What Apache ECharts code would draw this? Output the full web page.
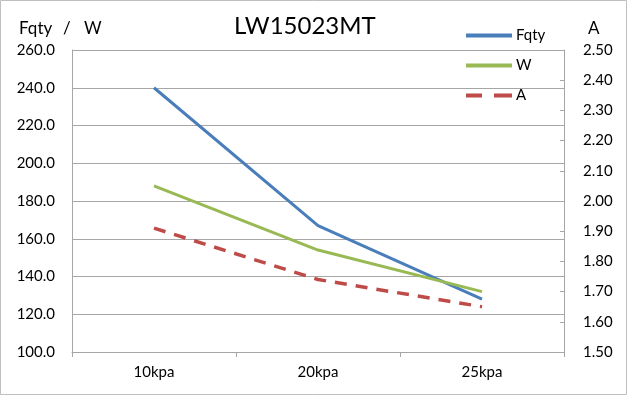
<!DOCTYPE html>
<html><head><meta charset="utf-8">
<script src="https://cdn.jsdelivr.net/npm/echarts@6/dist/echarts.min.js"></script>
<style>html,body{margin:0;padding:0;background:#fff}#c{width:628px;height:396px}</style>
</head><body><div id="c"></div>
<script>
var categories = ['10kpa', '20kpa', '25kpa'];
var fqty = [240, 167, 128];
var w = [188, 154, 132];
var a = [1.91, 1.74, 1.65];
var leftTicks = [100, 260, 20];
var rightTicks = [1.5, 2.5, 0.1];

var FONT = 'Lato';
var chart = echarts.init(document.getElementById('c'), null, {renderer: 'canvas'});
chart.setOption({
  backgroundColor: '#fff',
  animation: false,
  title: {text: 'LW15023MT', left: 229, top: 9,
    textStyle: {fontFamily: FONT, fontSize: 24, fontWeight: 'normal', color: '#000'}},
  legend: {
    orient: 'vertical', left: 461, top: 23, itemGap: 15, itemWidth: 46, itemHeight: 16,
    textStyle: {fontFamily: FONT, fontSize: 15, color: '#000', padding: [0, 0, 0, -1]},
    data: [
      {name: 'Fqty', icon: 'path://M0,0H46V4H0Z'},
      {name: 'W', icon: 'path://M0,0H46V4H0Z'},
      {name: 'A', icon: 'path://M0,0H16V4H0ZM28,0H46V4H28Z'}
    ]
  },
  graphic: [
    {type: 'rect', shape: {x: 0.5, y: 0.5, width: 626, height: 394}, style: {fill: 'none', stroke: '#bfbfbf', lineWidth: 1}, silent: true},
    {type: 'text', left: 19, top: 20, style: {text: 'Fqty', fontFamily: FONT, fontSize: 17, fill: '#000'}},
    {type: 'text', left: 63, top: 20, style: {text: '/', fontFamily: FONT, fontSize: 17, fill: '#000'}},
    {type: 'text', left: 84, top: 20, style: {text: 'W', fontFamily: FONT, fontSize: 17, fill: '#000'}},
    {type: 'text', left: 588, top: 20, style: {text: 'A', fontFamily: FONT, fontSize: 17, fill: '#000'}}
  ],
  grid: {left: 72, right: 64, top: 50, bottom: 44, containLabel: false},
  xAxis: {
    type: 'category', data: categories, boundaryGap: true,
    axisLine: {lineStyle: {color: '#a6a6a6', width: 1}},
    axisTick: {show: true, length: 5, lineStyle: {color: '#a6a6a6'}},
    axisLabel: {fontFamily: FONT, fontSize: 15, color: '#000', margin: 13}
  },
  yAxis: [
    {
      type: 'value', min: leftTicks[0], max: leftTicks[1], interval: leftTicks[2],
      axisLine: {show: true, lineStyle: {color: '#a6a6a6'}},
      axisTick: {show: false},
      splitLine: {lineStyle: {color: '#a6a6a6', width: 1}},
      axisLabel: {fontFamily: FONT, fontSize: 15, color: '#000', margin: 17,
        formatter: function (v) { return v.toFixed(1); }}
    },
    {
      type: 'value', position: 'right', min: rightTicks[0], max: rightTicks[1], interval: rightTicks[2],
      axisLine: {show: true, lineStyle: {color: '#a6a6a6'}},
      axisTick: {show: true, inside: true, length: 4, lineStyle: {color: '#a6a6a6'}},
      splitLine: {show: false},
      axisLabel: {fontFamily: FONT, fontSize: 15, color: '#000', margin: 19,
        formatter: function (v) { return v.toFixed(2); }}
    }
  ],
  series: [
    {name: 'Fqty', type: 'line', data: fqty, yAxisIndex: 0, symbol: 'none',
      lineStyle: {color: '#4a7ebb', width: 3}, itemStyle: {color: '#4a7ebb'}},
    {name: 'W', type: 'line', data: w, yAxisIndex: 0, symbol: 'none',
      lineStyle: {color: '#98b954', width: 3}, itemStyle: {color: '#98b954'}},
    {name: 'A', type: 'line', data: a, yAxisIndex: 1, symbol: 'none',
      lineStyle: {color: '#be4b48', width: 3.5, type: [12, 9]}, itemStyle: {color: '#be4b48'}}
  ]
});
</script></body></html>
